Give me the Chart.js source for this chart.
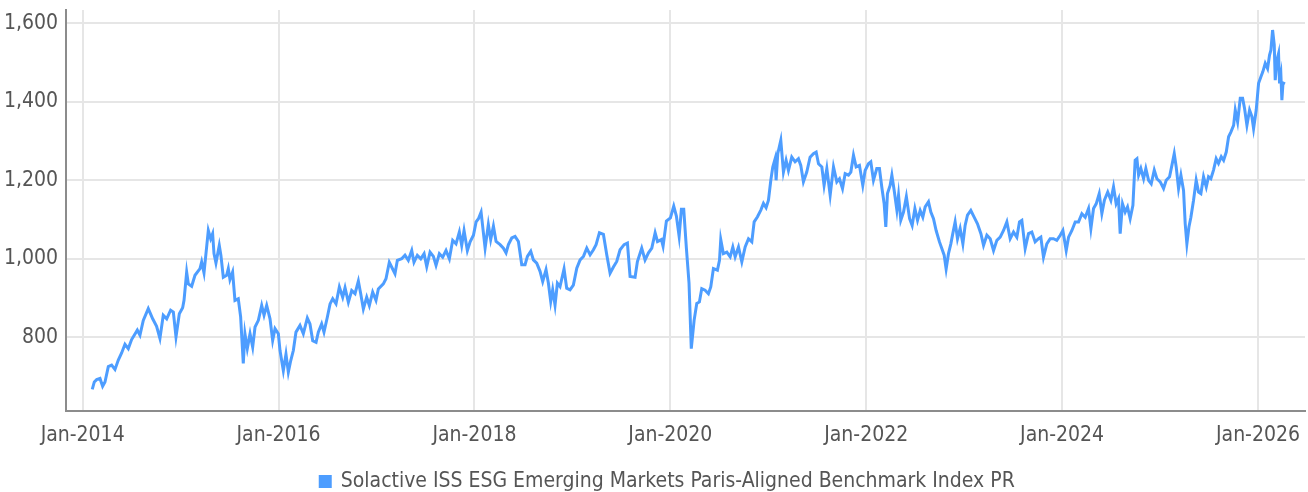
<!DOCTYPE html>
<html>
<head>
<meta charset="utf-8">
<script src="https://cdn.jsdelivr.net/npm/chart.js@4.4.1/dist/chart.umd.min.js"></script>
<style>
    html, body { margin: 0; padding: 0; background: #fff; }
    #wrap { width: 1308px; height: 492px; }
</style>
</head>
<body>
<div id="wrap"><canvas id="index-chart"></canvas></div>
<script>
// значения (год в десятичном виде, уровень индекса)
const seriesLabel = 'Solactive ISS ESG Emerging Markets Paris-Aligned Benchmark Index PR';

const years = [
    2014.098, 2014.119, 2014.143, 2014.177, 2014.204, 2014.228, 2014.262, 2014.296, 2014.330, 2014.364,
    2014.398, 2014.432, 2014.466, 2014.500, 2014.558, 2014.585, 2014.619, 2014.670, 2014.715, 2014.755,
    2014.789, 2014.823, 2014.858, 2014.898, 2014.926, 2014.953, 2014.987, 2015.021, 2015.035, 2015.062,
    2015.079, 2015.113, 2015.147, 2015.198, 2015.215, 2015.239, 2015.259, 2015.283, 2015.307, 2015.327,
    2015.341, 2015.361, 2015.395, 2015.412, 2015.436, 2015.470, 2015.487, 2015.504, 2015.531, 2015.555,
    2015.589, 2015.613, 2015.640, 2015.657, 2015.681, 2015.709, 2015.736, 2015.760, 2015.794, 2015.828,
    2015.852, 2015.879, 2015.913, 2015.940, 2015.964, 2015.998,
    2016.015, 2016.049, 2016.076, 2016.100, 2016.124, 2016.151, 2016.178, 2016.219, 2016.253, 2016.294,
    2016.321, 2016.349, 2016.383, 2016.406, 2016.440, 2016.464, 2016.498, 2016.526, 2016.553, 2016.587,
    2016.621, 2016.655, 2016.679, 2016.713, 2016.747, 2016.781, 2016.815, 2016.839, 2016.866, 2016.900,
    2016.927, 2016.961, 2016.995, 2017.019, 2017.070, 2017.097, 2017.131, 2017.165, 2017.189, 2017.213,
    2017.257, 2017.291, 2017.325, 2017.360, 2017.383, 2017.417, 2017.452, 2017.486, 2017.513, 2017.547,
    2017.581, 2017.608, 2017.642, 2017.676, 2017.710, 2017.744, 2017.778, 2017.812, 2017.846, 2017.870,
    2017.894, 2017.928, 2017.956, 2017.990, 2018.017, 2018.041, 2018.068,
    2018.109, 2018.142, 2018.166, 2018.194, 2018.221, 2018.262, 2018.296, 2018.323, 2018.347, 2018.381,
    2018.415, 2018.449, 2018.483, 2018.517, 2018.541, 2018.575, 2018.602, 2018.636, 2018.670, 2018.697,
    2018.731, 2018.755, 2018.779, 2018.799, 2018.823, 2018.847, 2018.874, 2018.915, 2018.942, 2018.976,
    2019.010, 2019.045, 2019.079, 2019.113, 2019.147, 2019.181, 2019.215, 2019.242, 2019.276, 2019.317,
    2019.351, 2019.385, 2019.419, 2019.453, 2019.487, 2019.528, 2019.562, 2019.589, 2019.640, 2019.664,
    2019.708, 2019.742, 2019.777, 2019.811, 2019.845, 2019.869, 2019.909, 2019.926, 2019.960, 2020.001,
    2020.035, 2020.062, 2020.090, 2020.113, 2020.137, 2020.164, 2020.191, 2020.214,
    2020.243, 2020.270, 2020.297, 2020.321, 2020.355, 2020.389, 2020.413, 2020.440, 2020.481, 2020.502,
    2020.515, 2020.542, 2020.577, 2020.611, 2020.638, 2020.662, 2020.696, 2020.730, 2020.764, 2020.798,
    2020.832, 2020.856, 2020.890, 2020.924, 2020.951, 2020.978, 2021.002, 2021.026, 2021.046, 2021.070,
    2021.080, 2021.097, 2021.128, 2021.155, 2021.182, 2021.206, 2021.240, 2021.274, 2021.308, 2021.332,
    2021.359, 2021.393, 2021.427, 2021.461, 2021.489, 2021.513, 2021.547, 2021.570, 2021.598, 2021.632,
    2021.666, 2021.700, 2021.727, 2021.758, 2021.785, 2021.819, 2021.843, 2021.870, 2021.897, 2021.931,
    2021.965, 2021.989, 2022.023, 2022.047, 2022.074, 2022.108, 2022.135, 2022.159, 2022.183, 2022.200,
    2022.217, 2022.244, 2022.262, 2022.285, 2022.313, 2022.330, 2022.353, 2022.381, 2022.410, 2022.443,
    2022.469, 2022.497, 2022.524, 2022.551, 2022.578, 2022.602, 2022.636, 2022.660, 2022.687, 2022.714,
    2022.748, 2022.772, 2022.796, 2022.816, 2022.840, 2022.864, 2022.884, 2022.908, 2022.932, 2022.959,
    2022.987, 2023.010, 2023.034, 2023.068, 2023.102, 2023.136, 2023.171, 2023.198, 2023.232, 2023.266,
    2023.300, 2023.334, 2023.368, 2023.402, 2023.436, 2023.470, 2023.504, 2023.538, 2023.565, 2023.589,
    2023.623, 2023.657, 2023.691, 2023.725, 2023.759, 2023.783, 2023.810, 2023.844, 2023.878, 2023.912,
    2023.946, 2023.981, 2024.008, 2024.042, 2024.066, 2024.100, 2024.134, 2024.168, 2024.202, 2024.236,
    2024.270, 2024.294, 2024.321, 2024.348, 2024.379, 2024.406, 2024.432, 2024.466,
    2024.498, 2024.525, 2024.552, 2024.576, 2024.593, 2024.617, 2024.644, 2024.668, 2024.695, 2024.723,
    2024.746, 2024.764, 2024.781, 2024.804, 2024.832, 2024.855, 2024.883, 2024.910, 2024.941, 2024.968,
    2025.002, 2025.036, 2025.063, 2025.097, 2025.121, 2025.145, 2025.165, 2025.189, 2025.213, 2025.240,
    2025.257, 2025.274, 2025.295, 2025.315, 2025.342, 2025.369, 2025.393, 2025.417, 2025.444, 2025.472,
    2025.495, 2025.519, 2025.546, 2025.573, 2025.597, 2025.625, 2025.649, 2025.676, 2025.700, 2025.723,
    2025.751, 2025.768, 2025.792, 2025.819, 2025.843, 2025.863, 2025.887, 2025.914, 2025.938, 2025.955,
    2025.982, 2026.006, 2026.030, 2026.050, 2026.074, 2026.098, 2026.118, 2026.132, 2026.149, 2026.166,
    2026.176, 2026.193, 2026.210, 2026.220, 2026.234, 2026.244, 2026.254, 2026.268
];

const values = [
    667, 686, 692, 695, 675, 686, 725, 729, 718, 742,
    760, 782, 771, 794, 818, 805, 843, 873, 847, 828,
    797, 856, 847, 869, 864, 801, 860, 875, 894, 966,
    936, 930, 958, 975, 992, 964, 1013, 1072, 1051, 1064,
    1013, 989, 1034, 1008, 953, 958, 975, 947, 966, 894,
    898, 852, 733, 809, 771, 809, 775, 826, 843, 881,
    856, 881, 847, 792, 822, 809,
    766, 715, 757, 711, 740, 766, 813, 830, 809, 849,
    834, 791, 787, 813, 834, 813, 851, 885, 898, 885,
    928, 902, 926, 889, 919, 911, 943, 911, 872, 902,
    881, 915, 894, 923, 936, 949, 991, 974, 962, 996,
    1000, 1009, 996, 1021, 991, 1009, 1000, 1013, 980, 1017,
    1006, 983, 1013, 1004, 1021, 1000, 1047, 1038, 1068, 1034,
    1072, 1021, 1043, 1060, 1094, 1102, 1119,
    1027, 1087, 1049, 1083, 1044, 1036, 1027, 1015, 1036, 1053,
    1057, 1044, 985, 985, 1006, 1019, 997, 989, 968, 942,
    972, 938, 891, 921, 882, 938, 929, 974, 925, 921,
    933, 976, 997, 1006, 1027, 1010, 1023, 1036, 1066, 1062,
    1010, 963, 979, 993, 1023, 1036, 1040, 955, 953, 993,
    1027, 997, 1015, 1027, 1066, 1044, 1049, 1032, 1096, 1104,
    1134, 1109, 1057, 1126, 1126, 1027, 938, 771,
    843, 886, 890, 924, 920, 911, 928, 975, 971, 996,
    1049, 1013, 1017, 1005, 1030, 1005, 1030, 992, 1030, 1051,
    1043, 1094, 1107, 1124, 1141, 1130, 1149, 1200, 1234, 1255,
    1200, 1268, 1302, 1221, 1251, 1225, 1259, 1247, 1255, 1238,
    1196, 1221, 1259, 1268, 1272, 1242, 1234, 1187, 1230, 1162,
    1234, 1196, 1204, 1179, 1217, 1213, 1221, 1264, 1234, 1238,
    1187, 1225, 1242, 1247, 1200, 1230, 1230, 1183, 1141, 1081,
    1166, 1187, 1213, 1175, 1124, 1162, 1098, 1119, 1158, 1102,
    1085, 1128, 1098, 1123, 1106, 1132, 1145, 1119, 1102, 1072,
    1043, 1026, 1009, 974, 1013, 1038, 1064, 1094, 1051, 1077,
    1038, 1085, 1111, 1123, 1106, 1089, 1064, 1034, 1060, 1051,
    1021, 1047, 1055, 1072, 1094, 1051, 1068, 1055, 1094, 1098,
    1026, 1064, 1068, 1043, 1051, 1055, 1004, 1038, 1051, 1051,
    1047, 1060, 1072, 1021, 1055, 1072, 1094, 1094, 1115, 1106,
    1128, 1077, 1128, 1140, 1166, 1115, 1149, 1170,
    1149, 1183, 1140, 1153, 1064, 1140, 1119, 1132, 1102, 1136,
    1251, 1255, 1213, 1230, 1204, 1230, 1200, 1191, 1226, 1204,
    1196, 1179, 1200, 1209, 1238, 1268, 1234, 1179, 1213, 1174,
    1089, 1038, 1081, 1106, 1149, 1200, 1170, 1166, 1209, 1183,
    1209, 1204, 1226, 1255, 1243, 1260, 1251, 1272, 1311, 1323,
    1340, 1379, 1349, 1409, 1409, 1383, 1340, 1379, 1362, 1332,
    1379, 1447, 1464, 1477, 1498, 1485, 1519, 1532, 1583, 1545,
    1455, 1506, 1523, 1447, 1468, 1404, 1443, 1451
];

const xTicks = [2014, 2016, 2018, 2020, 2022, 2024, 2026];
const yTicks = [800, 1000, 1200, 1400, 1600];

const fontFamily = "'Liberation Sans Narrow', 'DejaVu Sans Condensed', 'Roboto', sans-serif";
const gridColor = '#e6e6e6';
const axisColor = '#8c8c8c';
const textColor = '#555555';
const lineColor = '#4d9dff';

const points = years.map((x, i) => ({x: x, y: values[i]}));

// на оригинале легенда чуть правее центра холста
const legendShift = {
    id: 'legendShift',
    afterLayout(chart) {
        chart.legend.left += 15;
        chart.legend.right += 15;
    }
};

let plotCanvas = document.querySelector('#index-chart');

new Chart(plotCanvas, {
    type: 'line',
    data: {
        datasets: [{
            label: seriesLabel,
            data: points,
            borderColor: lineColor,
            backgroundColor: lineColor,
            borderWidth: 3,
            pointRadius: 0,
            tension: 0
        }]
    },
    plugins: [legendShift],
    options: {
        responsive: true,
        maintainAspectRatio: false,
        animation: false,
        layout: {
            padding: {top: 10, right: 3, left: 0, bottom: -10}
        },
        plugins: {
            tooltip: {enabled: false},
            legend: {
                position: 'bottom',
                labels: {
                    boxWidth: 10,
                    boxHeight: 10,
                    padding: 0,
                    color: textColor,
                    font: {family: fontFamily, size: 21}
                }
            }
        },
        scales: {
            x: {
                type: 'linear',
                min: 2013.83,
                max: 2026.48,
                afterBuildTicks: scale => {
                    scale.ticks = xTicks.map(v => ({value: v}));
                },
                afterFit: scale => {
                    scale.height = 60;
                    scale.paddingLeft = 0;
                    scale.paddingRight = 0;
                },
                ticks: {
                    autoSkip: false,
                    maxRotation: 0,
                    padding: 12,
                    color: textColor,
                    font: {family: fontFamily, size: 21},
                    callback: v => 'Jan-' + v
                },
                grid: {color: gridColor, lineWidth: 2, drawTicks: false},
                border: {color: axisColor, width: 2}
            },
            y: {
                min: 612,
                max: 1634,
                afterBuildTicks: scale => {
                    scale.ticks = yTicks.map(v => ({value: v}));
                },
                afterFit: scale => {
                    scale.width = 66;
                    scale.paddingTop = 0;
                    scale.paddingBottom = 0;
                },
                ticks: {
                    padding: 8,
                    color: textColor,
                    font: {family: fontFamily, size: 21}
                },
                grid: {color: gridColor, lineWidth: 2, drawTicks: false},
                border: {color: axisColor, width: 2}
            }
        }
    }
});
</script>
</body>
</html>
